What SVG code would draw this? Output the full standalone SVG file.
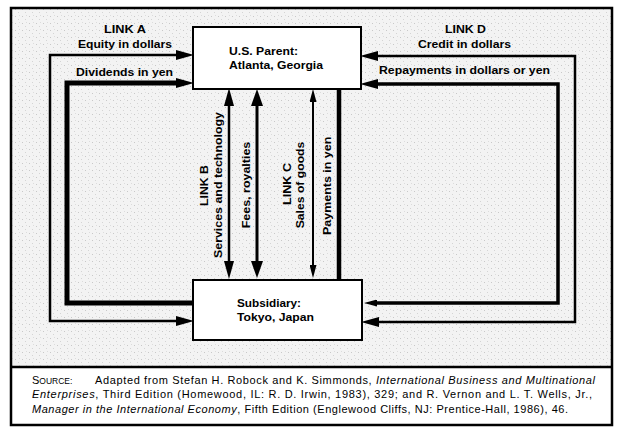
<svg xmlns="http://www.w3.org/2000/svg" width="618" height="431" viewBox="0 0 618 431">
  <defs>
    <pattern id="speck" width="7" height="7" patternUnits="userSpaceOnUse">
      <rect width="7" height="7" fill="#f3f3f3"/>
      <rect x="1" y="2" width="1" height="1" fill="#c8c8c8"/>
      <rect x="4" y="5" width="1" height="1" fill="#d4d4d4"/>
      <rect x="5" y="1" width="1" height="1" fill="#dcdcdc"/>
    </pattern>
    <marker id="aM" markerUnits="userSpaceOnUse" markerWidth="18" markerHeight="11" refX="8" refY="5" orient="auto-start-reverse" viewBox="0 0 18 10">
      <path d="M0,0 L18,5 L0,10 Z" fill="#000"/>
    </marker>
    <marker id="aL" markerUnits="userSpaceOnUse" markerWidth="17" markerHeight="12" refX="8" refY="6" orient="auto-start-reverse" viewBox="0 0 17 12">
      <path d="M0,0 L17,6 L0,12 Z" fill="#000"/>
    </marker>
    <marker id="aS" markerUnits="userSpaceOnUse" markerWidth="13" markerHeight="7" refX="6" refY="3.5" orient="auto-start-reverse" viewBox="0 0 13 7">
      <path d="M0,0 L13,3.5 L0,7 Z" fill="#000"/>
    </marker>
  </defs>
  <style>
    .lbl { font-family: "Liberation Sans", Arial, sans-serif; font-weight: bold; font-size: 11px; fill: #000; }
    .src { font-family: "Liberation Sans", Arial, sans-serif; font-size: 11px; fill: #000; }
    .it { font-style: italic; }
    .box { fill: #fff; stroke: #000; stroke-width: 2; }
    .ln { fill: none; stroke: #000; stroke-linejoin: miter; stroke-linecap: butt; }
  </style>

  <!-- frame -->
  <rect x="11" y="8" width="601" height="359" fill="url(#speck)"/>
  <rect x="11" y="367" width="601" height="58" fill="#fff"/>
  <rect x="11" y="8" width="601" height="417" fill="none" stroke="#000" stroke-width="2.5"/>
  <line x1="11" y1="367" x2="612" y2="367" stroke="#000" stroke-width="2.5"/>

  <g id="connectors">
    <!-- Link A -->
    <path class="ln" d="M184,55 H50 V321 H184" stroke-width="2.5" marker-start="url(#aM)" marker-end="url(#aM)"/>
    <path class="ln" d="M184,83 H67 V303 H194" stroke-width="5" marker-start="url(#aM)"/>
    <!-- Link D -->
    <path class="ln" d="M370,56 H575 V322 H371" stroke-width="2.5" marker-start="url(#aM)" marker-end="url(#aM)"/>
    <path class="ln" d="M370,84 H558 V303 H371" stroke-width="3.5" marker-start="url(#aM)" marker-end="url(#aS)"/>
    <!-- Link B -->
    <path class="ln" d="M229,98 V269" stroke-width="2.5" marker-start="url(#aM)" marker-end="url(#aM)"/>
    <path class="ln" d="M257,98 V269" stroke-width="3" marker-start="url(#aL)" marker-end="url(#aL)"/>
    <!-- Link C -->
    <path class="ln" d="M313,96 V271" stroke-width="2" marker-start="url(#aS)" marker-end="url(#aS)"/>
    <path class="ln" d="M339,89 V280" stroke-width="4.5"/>
  </g>

  <g id="parent">
    <rect class="box" x="193" y="27" width="168" height="62"/>
    <text class="lbl" x="229" y="55" textLength="69" lengthAdjust="spacingAndGlyphs">U.S. Parent:</text>
    <text class="lbl" x="229" y="69" textLength="94" lengthAdjust="spacingAndGlyphs">Atlanta, Georgia</text>
  </g>

  <g id="subsidiary">
    <rect class="box" x="193" y="280" width="169" height="60"/>
    <text class="lbl" x="237" y="307" textLength="64" lengthAdjust="spacingAndGlyphs">Subsidiary:</text>
    <text class="lbl" x="237" y="321" textLength="77" lengthAdjust="spacingAndGlyphs">Tokyo, Japan</text>
  </g>

  <g id="link-a-labels">
    <text class="lbl" x="104" y="33" textLength="42" lengthAdjust="spacingAndGlyphs">LINK A</text>
    <text class="lbl" x="78" y="48" textLength="94" lengthAdjust="spacingAndGlyphs">Equity in dollars</text>
    <text class="lbl" x="76" y="76" textLength="97" lengthAdjust="spacingAndGlyphs">Dividends in yen</text>
  </g>

  <g id="link-d-labels">
    <text class="lbl" x="445" y="33" textLength="41" lengthAdjust="spacingAndGlyphs">LINK D</text>
    <text class="lbl" x="418" y="48" textLength="93" lengthAdjust="spacingAndGlyphs">Credit in dollars</text>
    <text class="lbl" x="379" y="74" textLength="171" lengthAdjust="spacingAndGlyphs">Repayments in dollars or yen</text>
  </g>

  <g id="link-b-labels">
    <text class="lbl" transform="translate(208,206) rotate(-90)" textLength="41" lengthAdjust="spacingAndGlyphs">LINK B</text>
    <text class="lbl" transform="translate(222.3,258) rotate(-90)" textLength="146" lengthAdjust="spacingAndGlyphs">Services and technology</text>
    <text class="lbl" transform="translate(250,228.3) rotate(-90)" textLength="86.6" lengthAdjust="spacingAndGlyphs">Fees, royalties</text>
  </g>

  <g id="link-c-labels">
    <text class="lbl" transform="translate(291.3,205) rotate(-90)" textLength="42" lengthAdjust="spacingAndGlyphs">LINK C</text>
    <text class="lbl" transform="translate(304,228.3) rotate(-90)" textLength="86.6" lengthAdjust="spacingAndGlyphs">Sales of goods</text>
    <text class="lbl" transform="translate(331.3,235) rotate(-90)" textLength="98.3" lengthAdjust="spacingAndGlyphs">Payments in yen</text>
  </g>

  <g id="source">
    <text class="src" x="32" y="383.5">S<tspan font-size="8.5">OURCE:</tspan></text>
    <text class="src" x="95" y="383.5" textLength="500" lengthAdjust="spacing">Adapted from Stefan H. Robock and K. Simmonds, <tspan class="it">International Business and Multinational</tspan></text>
    <text class="src" x="32" y="398" textLength="560" lengthAdjust="spacing"><tspan class="it">Enterprises</tspan>, Third Edition (Homewood, IL: R. D. Irwin, 1983), 329; and R. Vernon and L. T. Wells, Jr.,</text>
    <text class="src" x="32" y="412.5" textLength="536" lengthAdjust="spacing"><tspan class="it">Manager in the International Economy</tspan>, Fifth Edition (Englewood Cliffs, NJ: Prentice-Hall, 1986), 46.</text>
  </g>
</svg>
